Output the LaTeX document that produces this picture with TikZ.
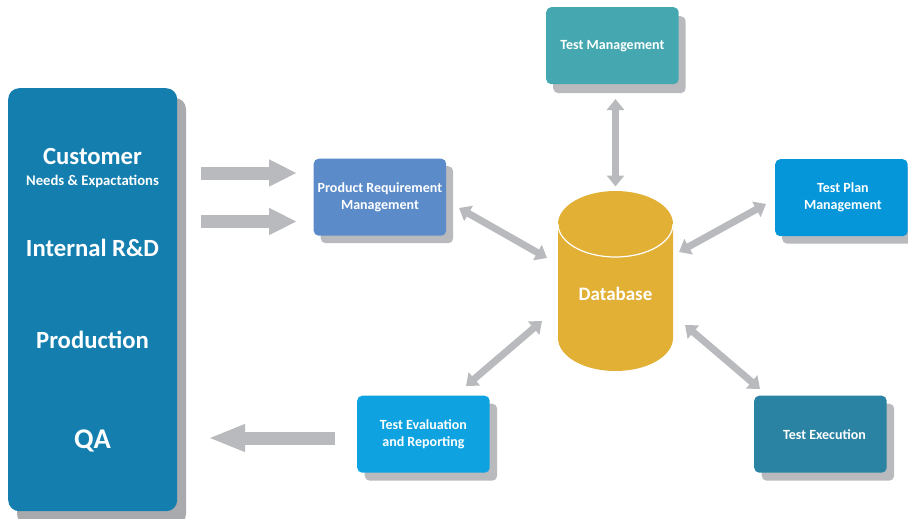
\documentclass[tikz,border=0pt]{standalone}
\usepackage{fontspec}
\setmainfont{Carlito}
\usetikzlibrary{arrows.meta}
\definecolor{shad}{HTML}{B9BABD}
\definecolor{shadL}{HTML}{A9AAAD}
\definecolor{cLeft}{HTML}{147FAF}
\definecolor{cProd}{HTML}{5B8BC9}
\definecolor{cMgmt}{HTML}{45A8B0}
\definecolor{cPlan}{HTML}{0596DA}
\definecolor{cExec}{HTML}{2A83A3}
\definecolor{cEval}{HTML}{0EA3E0}
\definecolor{cDb}{HTML}{E1B035}
\tikzset{
  card/.style={rounded corners=5pt,minimum width=132.5pt,minimum height=77pt,inner sep=0pt,
    text=white,font=\bfseries\fontsize{14}{17}\selectfont,align=center,anchor=north west},
  cardshadow/.style={card,fill=shad,draw=none},
  bigtext/.style={text=white,font=\bfseries\fontsize{24.7}{28}\selectfont,inner sep=0pt},
  oneway/.style={draw=shad,line width=13pt,-{Triangle[length=28pt,width=25pt]}},
  twoway/.style={draw=shad,line width=7pt,{Triangle[length=11pt,width=17pt]}-{Triangle[length=11pt,width=17pt]}},
}
\begin{document}
\begin{tikzpicture}[x=1pt,y=-1pt]
\useasboundingbox (0,0) rectangle (908,519);
% left panel
\fill[shadL,rounded corners=11pt] (17,98) rectangle (186,525);
\node[draw=none,fill=cLeft,rounded corners=11pt,minimum width=169pt,minimum height=423pt,inner sep=0pt,anchor=north west] (left) at (8,88) {};
\node[bigtext] (cust) at (92.5,156) {Customer};
\node[text=white,font=\bfseries\fontsize{14.7}{17}\selectfont,inner sep=0pt] (needs) at (92.5,181) {Needs \& Expactations};
\node[bigtext] (rd) at (92.5,248) {Internal R\&D};
\node[bigtext] (prod) at (92.5,340) {Production};
\node[bigtext,font=\bfseries\fontsize{28.5}{32}\selectfont] (qa) at (92.5,441) {QA};
% shadows
\node[cardshadow] (s1) at (320.5,166) {};
\node[cardshadow] (s2) at (553,16) {};
\node[cardshadow] (s3) at (782,166.5) {};
\node[cardshadow] (s4) at (761.5,403.5) {};
\node[cardshadow] (s5) at (364.5,403.5) {};
% cards
\node[card,fill=cProd] (req) at (313.5,158.5) {Product Requirement\\Management};
\node[card,fill=cMgmt] (mgmt) at (546,7) {Test Management};
\node[card,fill=cPlan] (plan) at (775,159) {\hspace*{3pt}Test Plan\\\hspace*{3pt}Management};
\node[card,fill=cExec] (exec) at (754,395.5) {\hspace*{8pt}Test Execution};
\node[card,fill=cEval] (eval) at (357,395.5) {Test Evaluation\\and Reporting};
% database
\fill[cDb] (558,224) -- (558,338) arc[start angle=180,end angle=360,x radius=57.5pt,y radius=33pt] -- (673,224) -- cycle;
\fill[cDb] (615.5,224) ellipse[x radius=57.5pt,y radius=33pt];
\draw[white,line width=1.2pt] (558,224) arc[start angle=180,end angle=360,x radius=57.5pt,y radius=33pt];
\node[text=white,font=\bfseries\fontsize{19}{22}\selectfont,inner sep=0pt] (db) at (615.5,294) {Database};
% connector ends
\coordinate (a1s) at (201,173); \coordinate (a1e) at (297,173);
\coordinate (a2s) at (201,221.5); \coordinate (a2e) at (297,221.5);
\coordinate (a3s) at (335,438); \coordinate (a3e) at (208,438);
\coordinate (mt) at (615.5,99); \coordinate (mb) at (615.5,186.5);
\coordinate (pa) at (459,208); \coordinate (pb) at (547,258);
\coordinate (qa1) at (766,204); \coordinate (qb) at (679,252);
\coordinate (ea) at (466,386); \coordinate (eb) at (542,321);
\coordinate (xa) at (760,389); \coordinate (xb) at (685,325);
\draw[oneway] (a1s) -- (a1e);
\draw[oneway] (a2s) -- (a2e);
\draw[oneway,-{Triangle[length=37pt,width=25pt]}] (a3s) -- (a3e);
\draw[twoway] (mt) -- (mb);
\draw[twoway] (pa) -- (pb);
\draw[twoway] (qa1) -- (qb);
\draw[twoway] (ea) -- (eb);
\draw[twoway] (xa) -- (xb);
\end{tikzpicture}
\end{document}
